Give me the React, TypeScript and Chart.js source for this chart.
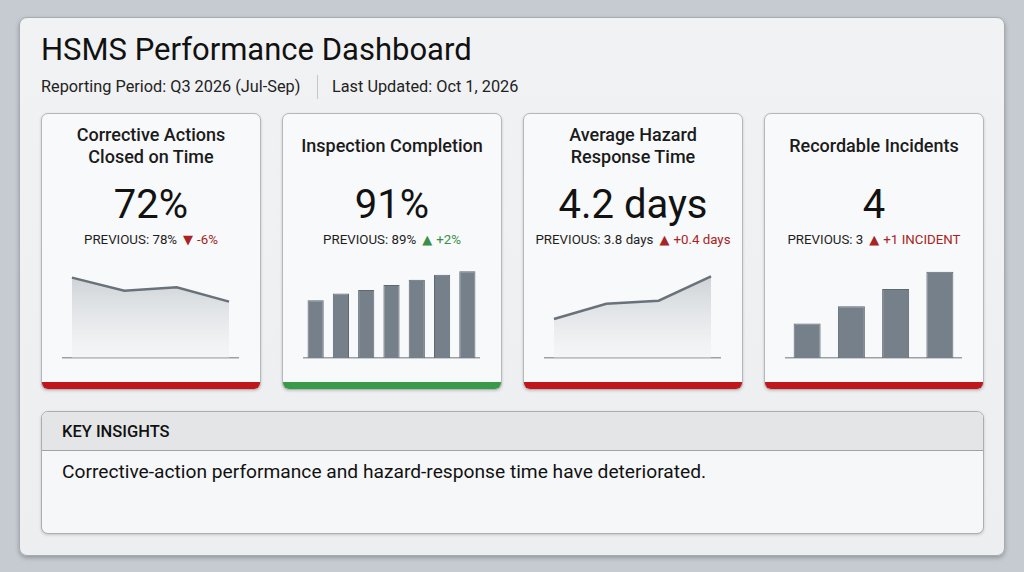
import React, { useEffect, useRef } from "react";
import { Chart, registerables } from "chart.js";

Chart.register(...registerables);

// ---- Data ----
const correctiveLabels = ["Q4 2025", "Q1 2026", "Q2 2026", "Q3 2026"];
const correctiveValues = [82, 76.5, 78, 72];

const inspectionLabels = ["Mar", "Apr", "May", "Jun", "Jul", "Aug", "Sep"];
const inspectionValues = [74, 78, 80, 83, 86, 89, 91];

const hazardLabels = ["Q4 2025", "Q1 2026", "Q2 2026", "Q3 2026"];
const hazardValues = [3.5, 3.75, 3.8, 4.2];

const incidentLabels = ["Q4 2025", "Q1 2026", "Q2 2026", "Q3 2026"];
const incidentValues = [1, 2, 3, 4];

const FONT = "Roboto, 'Noto Sans', Arial, sans-serif";
const RED = "#c0171c";
const GREEN = "#3a9a48";
const DELTA_RED = "#a82323";
const DELTA_GREEN = "#3b8e48";

type SparkProps = {
  kind: "line" | "bar";
  labels: string[];
  values: number[];
  min: number;
  max: number;
  barPct?: number;
};

function Spark({ kind, labels, values, min, max, barPct }: SparkProps) {
  const ref = useRef<HTMLCanvasElement>(null);
  useEffect(() => {
    const canvas = ref.current;
    if (!canvas) return;
    let chart: Chart;
    const xBorder = { display: true, color: "#9ba1a7", width: 1.5 };
    if (kind === "line") {
      chart = new Chart(canvas, {
        type: "line",
        data: {
          labels,
          datasets: [
            {
              data: values.map((v, i) => ({ x: i, y: v })),
              borderColor: "#69727a",
              borderWidth: 2.5,
              pointRadius: 0,
              tension: 0,
              fill: "start",
              backgroundColor: (c: any) => {
                const a = c.chart.chartArea;
                if (!a) return "rgba(200,204,208,0.5)";
                const g = c.chart.ctx.createLinearGradient(0, a.top, 0, a.bottom);
                g.addColorStop(0, "rgba(178,184,190,0.8)");
                g.addColorStop(1, "rgba(238,240,242,0.4)");
                return g;
              },
            },
          ],
        },
        options: {
          animation: false,
          responsive: false,
          maintainAspectRatio: false,
          layout: { padding: { bottom: 2, top: 0, left: 0, right: 0 } },
          plugins: { legend: { display: false }, tooltip: { enabled: false } },
          scales: {
            x: {
              type: "linear",
              min: -0.19,
              max: values.length - 1 + 0.19,
              grid: { display: false, drawTicks: false },
              ticks: { display: false },
              border: xBorder,
            },
            y: { display: false, min, max },
          },
        },
      } as any);
    } else {
      chart = new Chart(canvas, {
        type: "bar",
        data: {
          labels,
          datasets: [
            {
              data: values,
              base: min,
              backgroundColor: "#76808a",
              borderColor: "#5f6870",
              borderWidth: 1,
              barPercentage: barPct ?? 0.63,
              categoryPercentage: 1,
            },
          ],
        },
        options: {
          animation: false,
          responsive: false,
          maintainAspectRatio: false,
          layout: { padding: { bottom: 2, top: 0, left: 0, right: 0 } },
          plugins: { legend: { display: false }, tooltip: { enabled: false } },
          scales: {
            x: {
              grid: { display: false, drawTicks: false },
              ticks: { display: false },
              border: xBorder,
            },
            y: { display: false, min, max },
          },
        },
      } as any);
    }
    return () => chart.destroy();
  }, []);
  return (
    <canvas
      ref={ref}
      width={177}
      height={104}
      style={{ position: "absolute", left: 20, top: 142, width: 177, height: 104 }}
    />
  );
}

type CardProps = {
  left: number;
  title: string;
  value: string;
  prev: string;
  up: boolean;
  delta: string;
  deltaColor: string;
  arrowColor: string;
  barColor: string;
  children: React.ReactNode;
};

function Card(p: CardProps) {
  return (
    <div
      style={{
        position: "absolute",
        left: p.left,
        top: 113,
        width: 220,
        height: 277,
        boxSizing: "border-box",
        border: "1px solid #b3b8bd",
        borderRadius: 7,
        background: "#f8f9fa",
        boxShadow: "0 1px 3px rgba(0,0,0,0.18)",
        overflow: "hidden",
      }}
    >
      <div
        style={{
          position: "absolute",
          top: 10,
          left: 0,
          right: 0,
          height: 44,
          display: "flex",
          alignItems: "center",
          justifyContent: "center",
          textAlign: "center",
          whiteSpace: "pre-line",
          fontSize: 18,
          fontWeight: 500,
          lineHeight: "22px",
          color: "#1b1b1b",
        }}
      >
        {p.title}
      </div>
      <div
        style={{
          position: "absolute",
          top: 67,
          left: 0,
          right: 0,
          textAlign: "center",
          fontSize: 40,
          lineHeight: "48px",
          color: "#121212",
        }}
      >
        {p.value}
      </div>
      <div
        style={{
          position: "absolute",
          top: 118,
          left: 0,
          right: 0,
          textAlign: "center",
          fontSize: 13.3,
          lineHeight: "16px",
          color: "#1e1e1e",
          whiteSpace: "nowrap",
        }}
      >
        {p.prev}
        <span
          style={{
            color: p.arrowColor,
            fontSize: 13,
            margin: "0 4px 0 6px",
            fontFamily: "'DejaVu Sans', sans-serif",
          }}
        >
          {p.up ? "▲" : "▼"}
        </span>
        <span style={{ color: p.deltaColor }}>{p.delta}</span>
      </div>
      {p.children}
      <div
        style={{
          position: "absolute",
          left: 0,
          right: 0,
          bottom: 0,
          height: 7,
          background: p.barColor,
        }}
      />
    </div>
  );
}

export default function App() {
  return (
    <div
      style={{
        position: "fixed",
        left: 0,
        top: 0,
        width: 1024,
        height: 572,
        background: "#c5cbd1",
        fontFamily: FONT,
        overflow: "hidden",
      }}
    >
      <div
        style={{
          position: "absolute",
          left: 19,
          top: 17,
          width: 986,
          height: 539,
          boxSizing: "border-box",
          border: "1px solid #a7acb1",
          borderRadius: 8,
          background: "linear-gradient(180deg, #f1f2f3 0%, #eceef0 100%)",
          boxShadow: "0 2px 4px rgba(0,0,0,0.25)",
        }}
      />
      <div
        style={{
          position: "absolute",
          left: 41,
          top: 31,
          fontSize: 31,
          lineHeight: "37px",
          color: "#111",
          whiteSpace: "nowrap",
        }}
      >
        HSMS Performance Dashboard
      </div>
      <div style={{ position: "absolute", left: 41, top: 77, fontSize: 16.3, lineHeight: "20px", color: "#222", whiteSpace: "nowrap" }}>
        Reporting Period: Q3 2026 (Jul-Sep)
      </div>
      <div style={{ position: "absolute", left: 317, top: 75, width: 1, height: 24, background: "#c3c7cb" }} />
      <div style={{ position: "absolute", left: 332, top: 77, fontSize: 16.3, lineHeight: "20px", color: "#222", whiteSpace: "nowrap" }}>
        Last Updated: Oct 1, 2026
      </div>

      <Card
        left={41}
        title={"Corrective Actions\nClosed on Time"}
        value="72%"
        prev="PREVIOUS: 78%"
        up={false}
        delta="-6%"
        deltaColor={DELTA_RED}
        arrowColor={DELTA_RED}
        barColor={RED}
      >
        <Spark kind="line" labels={correctiveLabels} values={correctiveValues} min={48.5} max={91} />
      </Card>
      <Card
        left={282}
        title="Inspection Completion"
        value="91%"
        prev="PREVIOUS: 89%"
        up={true}
        delta="+2%"
        deltaColor={DELTA_GREEN}
        arrowColor={DELTA_GREEN}
        barColor={GREEN}
      >
        <Spark kind="bar" labels={inspectionLabels} values={inspectionValues} min={40} max={100} barPct={0.64} />
      </Card>
      <Card
        left={523}
        title={"Average Hazard\nResponse Time"}
        value="4.2 days"
        prev="PREVIOUS: 3.8 days"
        up={true}
        delta="+0.4 days"
        deltaColor={DELTA_RED}
        arrowColor={DELTA_RED}
        barColor={RED}
      >
        <Spark kind="line" labels={hazardLabels} values={hazardValues} min={2.857} max={4.536} />
      </Card>
      <Card
        left={764}
        title="Recordable Incidents"
        value="4"
        prev="PREVIOUS: 3"
        up={true}
        delta="+1 INCIDENT"
        deltaColor={DELTA_RED}
        arrowColor={DELTA_RED}
        barColor={RED}
      >
        <Spark kind="bar" labels={incidentLabels} values={incidentValues} min={-1} max={4.91} barPct={0.61} />
      </Card>

      <div
        style={{
          position: "absolute",
          left: 41,
          top: 411,
          width: 943,
          height: 123,
          boxSizing: "border-box",
          border: "1px solid #a9aeb3",
          borderRadius: 7,
          background: "#f6f7f8",
          boxShadow: "0 1px 3px rgba(0,0,0,0.18)",
          overflow: "hidden",
        }}
      >
        <div
          style={{
            height: 39,
            boxSizing: "border-box",
            background: "#e3e5e7",
            borderBottom: "1px solid #9ea3a8",
            paddingLeft: 20,
            fontSize: 16.5,
            fontWeight: 500,
            lineHeight: "40px",
            color: "#111",
          }}
        >
          KEY INSIGHTS
        </div>
        <div style={{ position: "absolute", left: 20, top: 48, fontSize: 19.2, lineHeight: "24px", color: "#111", whiteSpace: "nowrap" }}>
          Corrective-action performance and hazard-response time have deteriorated.
        </div>
      </div>
    </div>
  );
}
